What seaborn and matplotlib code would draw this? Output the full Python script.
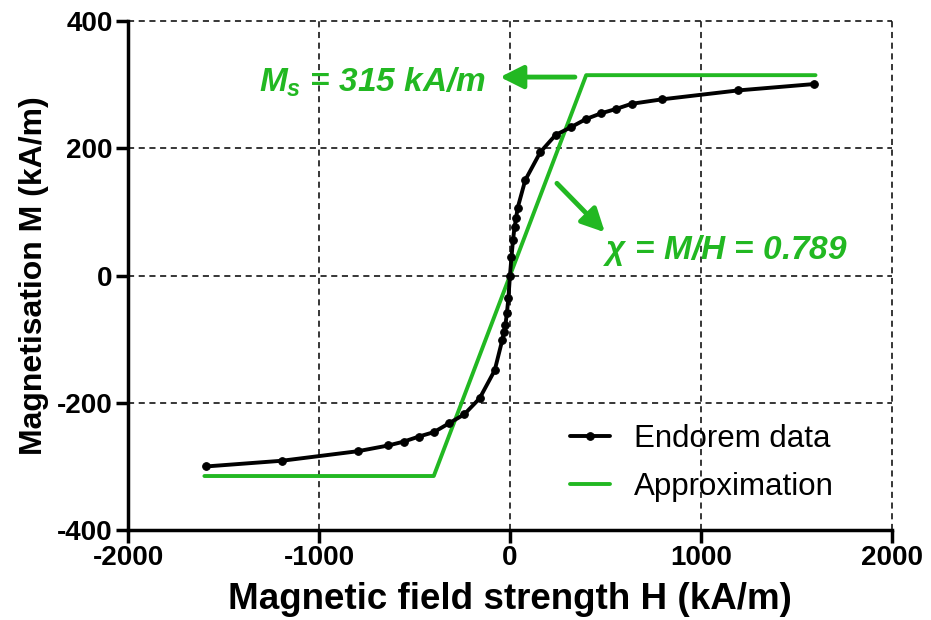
import matplotlib.pyplot as plt
import seaborn as sns
import pandas as pd

# Endorem magnetisation curve (H in kA/m, M in kA/m)
field_h = [-1592, -1194, -796, -637, -557, -477, -398, -318, -239, -159, -80,
           -40, -32, -24, -16, -8, 0, 8, 16, 24, 32, 40, 80, 159, 239, 318,
           398, 477, 557, 637, 796, 1194, 1592]
magnet_m = [-300, -291, -276, -267, -261, -253, -246, -232, -218, -193, -149,
            -101, -89, -78, -59, -35, 0, 29, 56, 76, 90, 106, 150, 194, 221, 233,
            246, 255, 262, 270, 277, 291, 301]

# linear approximation clipped at saturation
approx_h = [-1600, -399, 399, 1600]
approx_m = [-315, -315, 315, 315]

GREEN = '#22b822'

sns.set_style('white')
plt.rcParams['font.family'] = ['Liberation Sans', 'DejaVu Sans']
plt.rcParams['axes.unicode_minus'] = False
plt.rcParams['text.color'] = 'black'
plt.rcParams['axes.labelcolor'] = 'black'
plt.rcParams['xtick.color'] = 'black'
plt.rcParams['ytick.color'] = 'black'
plt.rcParams['mathtext.fontset'] = 'custom'
plt.rcParams['mathtext.it'] = 'Liberation Sans:italic:bold'
plt.rcParams['mathtext.rm'] = 'Liberation Sans:bold'

fig = plt.figure(figsize = (9.31, 6.20), dpi = 100)
ax = fig.add_axes([0.1375, 0.145, 0.8205, 0.821])

data = pd.DataFrame({'H': field_h, 'M': magnet_m})
approx = pd.DataFrame({'H': approx_h, 'M': approx_m})

sns.lineplot(data = data, x = 'H', y = 'M', ax = ax, color = 'black', lw = 2.8,
             marker = 'o', markersize = 5.5, markeredgecolor = 'black',
             label = 'Endorem data', sort = False, zorder = 3)
sns.lineplot(data = approx, x = 'H', y = 'M', ax = ax, color = GREEN, lw = 2.8,
             label = 'Approximation', sort = False, zorder = 2)

ax.set_xlim(-2000, 2000)
ax.set_ylim(-400, 400)
ax.set_xticks([-2000, -1000, 0, 1000, 2000])
ax.set_yticks([-400, -200, 0, 200, 400])
ax.grid(True, color = 'black', linestyle = (0, (4, 3)), lw = 1.1)
ax.set_axisbelow(True)
for gl in ax.get_xgridlines() + ax.get_ygridlines():
    gl.set_clip_on(False)

for side in ['top', 'right']:
    ax.spines[side].set_visible(False)
for side in ['left', 'bottom']:
    ax.spines[side].set_color('black')
    ax.spines[side].set_linewidth(2.5)

ax.tick_params(axis = 'both', direction = 'out', length = 9, width = 2.5,
               color = 'black', labelcolor = 'black', labelsize = 20,
               left = True, bottom = True, pad = 2)
for lbl in ax.get_xticklabels() + ax.get_yticklabels():
    lbl.set_fontweight('bold')

ax.set_xlabel('Magnetic field strength H (kA/m)', fontsize = 26.5, fontweight = 'bold', labelpad = 8)
ax.set_ylabel('Magnetisation M (kA/m)', fontsize = 23, fontweight = 'bold', labelpad = 6)

ax.legend(loc = 'lower right', bbox_to_anchor = (0.94, 0.03), borderaxespad = 0,
          frameon = False, fontsize = 22.5, handlelength = 1.3, handletextpad = 0.75,
          labelspacing = 0.58)

arrow = dict(arrowstyle = '-|>', color = GREEN, lw = 3.5, mutation_scale = 35,
             shrinkA = 0, shrinkB = 0)
ax.annotate('', xy = (-52, 312), xytext = (340, 312), arrowprops = arrow)
ax.text(-720, 304, '$M_s$ = 315 kA/m', color = GREEN, fontsize = 24,
        fontweight = 'bold', fontstyle = 'italic', ha = 'center', va = 'center')

ax.annotate('', xy = (497, 68), xytext = (246, 145), arrowprops = arrow)
ax.text(1126, 40, r'$\chi$ = M/H = 0.789', color = GREEN, fontsize = 24,
        fontweight = 'bold', fontstyle = 'italic', ha = 'center', va = 'center')

fig.savefig('out.png', dpi = 100)
